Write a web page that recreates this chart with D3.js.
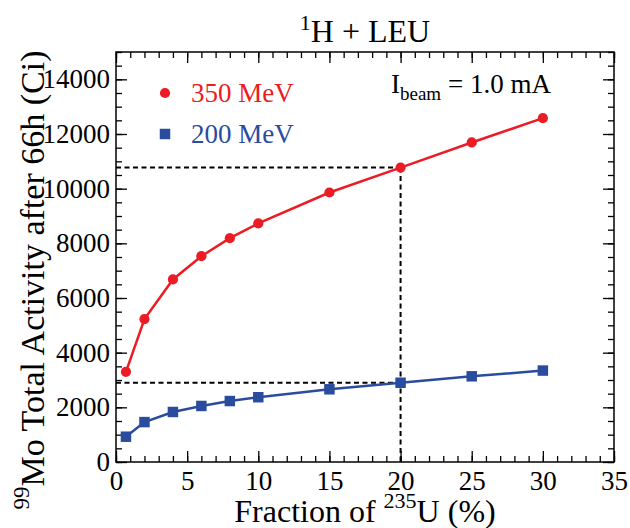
<!DOCTYPE html>
<html>
  <head>
    <meta charset="utf-8" />
    <style>
      body { margin: 0; background: #fff; }
      text { font-family: "Liberation Serif", "Times New Roman", serif; }
      .line { fill: none; stroke-width: 2.5px; }
      .ref { fill: none; stroke: #000; stroke-width: 2px; stroke-dasharray: 5 3.5; }
    </style>
  </head>
  <body>
    <svg id="chart"></svg>
    <script src="https://cdn.jsdelivr.net/npm/d3@7"></script>
    <script>
      // data
      const fractions = [0.7, 2, 4, 6, 8, 10, 15, 20, 25, 30];
      const activity350 = [3300, 5230, 6680, 7530, 8190, 8730, 9860, 10770, 11690, 12580];
      const activity200 = [925, 1460, 1830, 2050, 2230, 2370, 2660, 2900, 3135, 3345];
      const xTicks = [0, 5, 10, 15, 20, 25, 30, 35];
      const yTicks = [0, 2000, 4000, 6000, 8000, 10000, 12000, 14000];
      const refFraction = 20;

      const width = 630;
      const height = 528;
      const margin = { top: 52, right: 16, bottom: 66, left: 116 };
      const innerWidth = width - margin.left - margin.right;
      const innerHeight = height - margin.top - margin.bottom;

      const red = "#ec1c24";
      const blue = "#2a4c9f";

      const xScale = d3.scaleLinear().domain([0, 35]).range([0, innerWidth]);
      const yScale = d3.scaleLinear().domain([0, 15000]).range([innerHeight, 0]);

      const svg = d3.select("#chart").attr("width", width).attr("height", height);
      const chart = svg.append("g").attr("transform", `translate(${margin.left},${margin.top})`);

      const minorX = d3.range(0, 36, 1);
      const minorY = d3.range(0, 15001, 500);

      function styleAxis(g) {
        g.select(".domain").remove();
        g.selectAll("line").attr("stroke", "#000").attr("stroke-width", 1.3);
        g.selectAll("text")
          .attr("font-family", '"Liberation Serif", "Times New Roman", serif')
          .attr("font-size", 27)
          .attr("fill", "#000");
      }

      // bottom axis
      chart.append("g")
        .attr("transform", `translate(0,${innerHeight})`)
        .call(d3.axisBottom(xScale).tickValues(minorX).tickSize(-6).tickFormat(""))
        .call(styleAxis);
      chart.append("g")
        .attr("transform", `translate(0,${innerHeight})`)
        .call(d3.axisBottom(xScale).tickValues(xTicks).tickSizeInner(-11).tickSizeOuter(0).tickPadding(9).tickFormat(d3.format("d")))
        .call(styleAxis);

      // top axis
      chart.append("g")
        .call(d3.axisTop(xScale).tickValues(minorX).tickSize(-6).tickFormat(""))
        .call(styleAxis);
      chart.append("g")
        .call(d3.axisTop(xScale).tickValues(xTicks).tickSize(-11).tickFormat(""))
        .call(styleAxis);

      // left axis
      chart.append("g")
        .call(d3.axisLeft(yScale).tickValues(minorY).tickSize(-6).tickFormat(""))
        .call(styleAxis);
      chart.append("g")
        .call(d3.axisLeft(yScale).tickValues(yTicks).tickSizeInner(-11).tickSizeOuter(0).tickPadding(6).tickFormat(d3.format("d")))
        .call(styleAxis);

      // right axis
      chart.append("g")
        .attr("transform", `translate(${innerWidth},0)`)
        .call(d3.axisRight(yScale).tickValues(minorY).tickSize(-6).tickFormat(""))
        .call(styleAxis);
      chart.append("g")
        .attr("transform", `translate(${innerWidth},0)`)
        .call(d3.axisRight(yScale).tickValues(yTicks).tickSize(-11).tickFormat(""))
        .call(styleAxis);

      // frame
      chart.append("rect")
        .attr("width", innerWidth)
        .attr("height", innerHeight)
        .attr("fill", "none")
        .attr("stroke", "#000")
        .attr("stroke-width", 1.5);

      // dashed reference lines at 20 %
      const refIndex = fractions.indexOf(refFraction);
      [activity350, activity200].forEach((vals) => {
        chart.append("line")
          .attr("class", "ref")
          .attr("x1", xScale(0))
          .attr("x2", xScale(refFraction))
          .attr("y1", yScale(vals[refIndex]))
          .attr("y2", yScale(vals[refIndex]));
      });
      chart.append("line")
        .attr("class", "ref")
        .attr("x1", xScale(refFraction))
        .attr("x2", xScale(refFraction))
        .attr("y1", yScale(activity350[refIndex]))
        .attr("y2", yScale(0));

      const lineGenerator = d3.line()
        .x((d) => xScale(d[0]))
        .y((d) => yScale(d[1]));

      const series = [
        { name: "350 MeV", values: activity350, color: red, symbol: d3.symbolCircle, size: 82 },
        { name: "200 MeV", values: activity200, color: blue, symbol: d3.symbolSquare, size: 110 },
      ];

      series.forEach((s) => {
        const pts = fractions.map((f, i) => [f, s.values[i]]);
        chart.append("path")
          .datum(pts)
          .attr("class", "line")
          .attr("stroke", s.color)
          .attr("d", lineGenerator);
        chart.selectAll(null)
          .data(pts)
          .join("path")
          .attr("transform", (d) => `translate(${xScale(d[0])},${yScale(d[1])})`)
          .attr("d", d3.symbol().type(s.symbol).size(s.size))
          .attr("fill", s.color);
      });

      // legend
      series.forEach((s, i) => {
        const ly = 41 + i * 41;
        chart.append("path")
          .attr("transform", `translate(49,${ly})`)
          .attr("d", d3.symbol().type(s.symbol).size(s.size))
          .attr("fill", s.color);
        chart.append("text")
          .attr("x", 75)
          .attr("y", ly + 9)
          .attr("font-size", 27)
          .attr("fill", s.color)
          .text(s.name);
      });

      // beam current label
      const beam = chart.append("text")
        .attr("x", 275)
        .attr("y", 41)
        .attr("font-size", 27)
        .attr("fill", "#000");
      beam.append("tspan").text("I");
      beam.append("tspan").attr("font-size", 19).attr("dy", 7).text("beam");
      beam.append("tspan").attr("dy", -7).text(" = 1.0 mA");

      // title
      const title = svg.append("text")
        .attr("x", margin.left + innerWidth / 2)
        .attr("y", 42)
        .attr("text-anchor", "middle")
        .attr("font-size", 32)
        .attr("fill", "#000");
      title.append("tspan").attr("font-size", 22).attr("dy", -12).text("1");
      title.append("tspan").attr("dy", 12).text("H + LEU");

      // x axis title
      const xTitle = svg.append("text")
        .attr("x", margin.left + innerWidth / 2)
        .attr("y", 522)
        .attr("text-anchor", "middle")
        .attr("font-size", 32)
        .attr("fill", "#000");
      xTitle.append("tspan").text("Fraction of ");
      xTitle.append("tspan").attr("font-size", 22).attr("dy", -14).text("235");
      xTitle.append("tspan").attr("dy", 14).text("U (%)");

      // y axis title
      const yTitle = svg.append("text")
        .attr("transform", "translate(44,280) rotate(-90)")
        .attr("text-anchor", "middle")
        .attr("font-size", 34)
        .attr("fill", "#000");
      yTitle.append("tspan").attr("font-size", 23).attr("dy", -15).text("99");
      yTitle.append("tspan").attr("dy", 15).text("Mo Total Activity after 66h (Ci)");
    </script>
  </body>
</html>
